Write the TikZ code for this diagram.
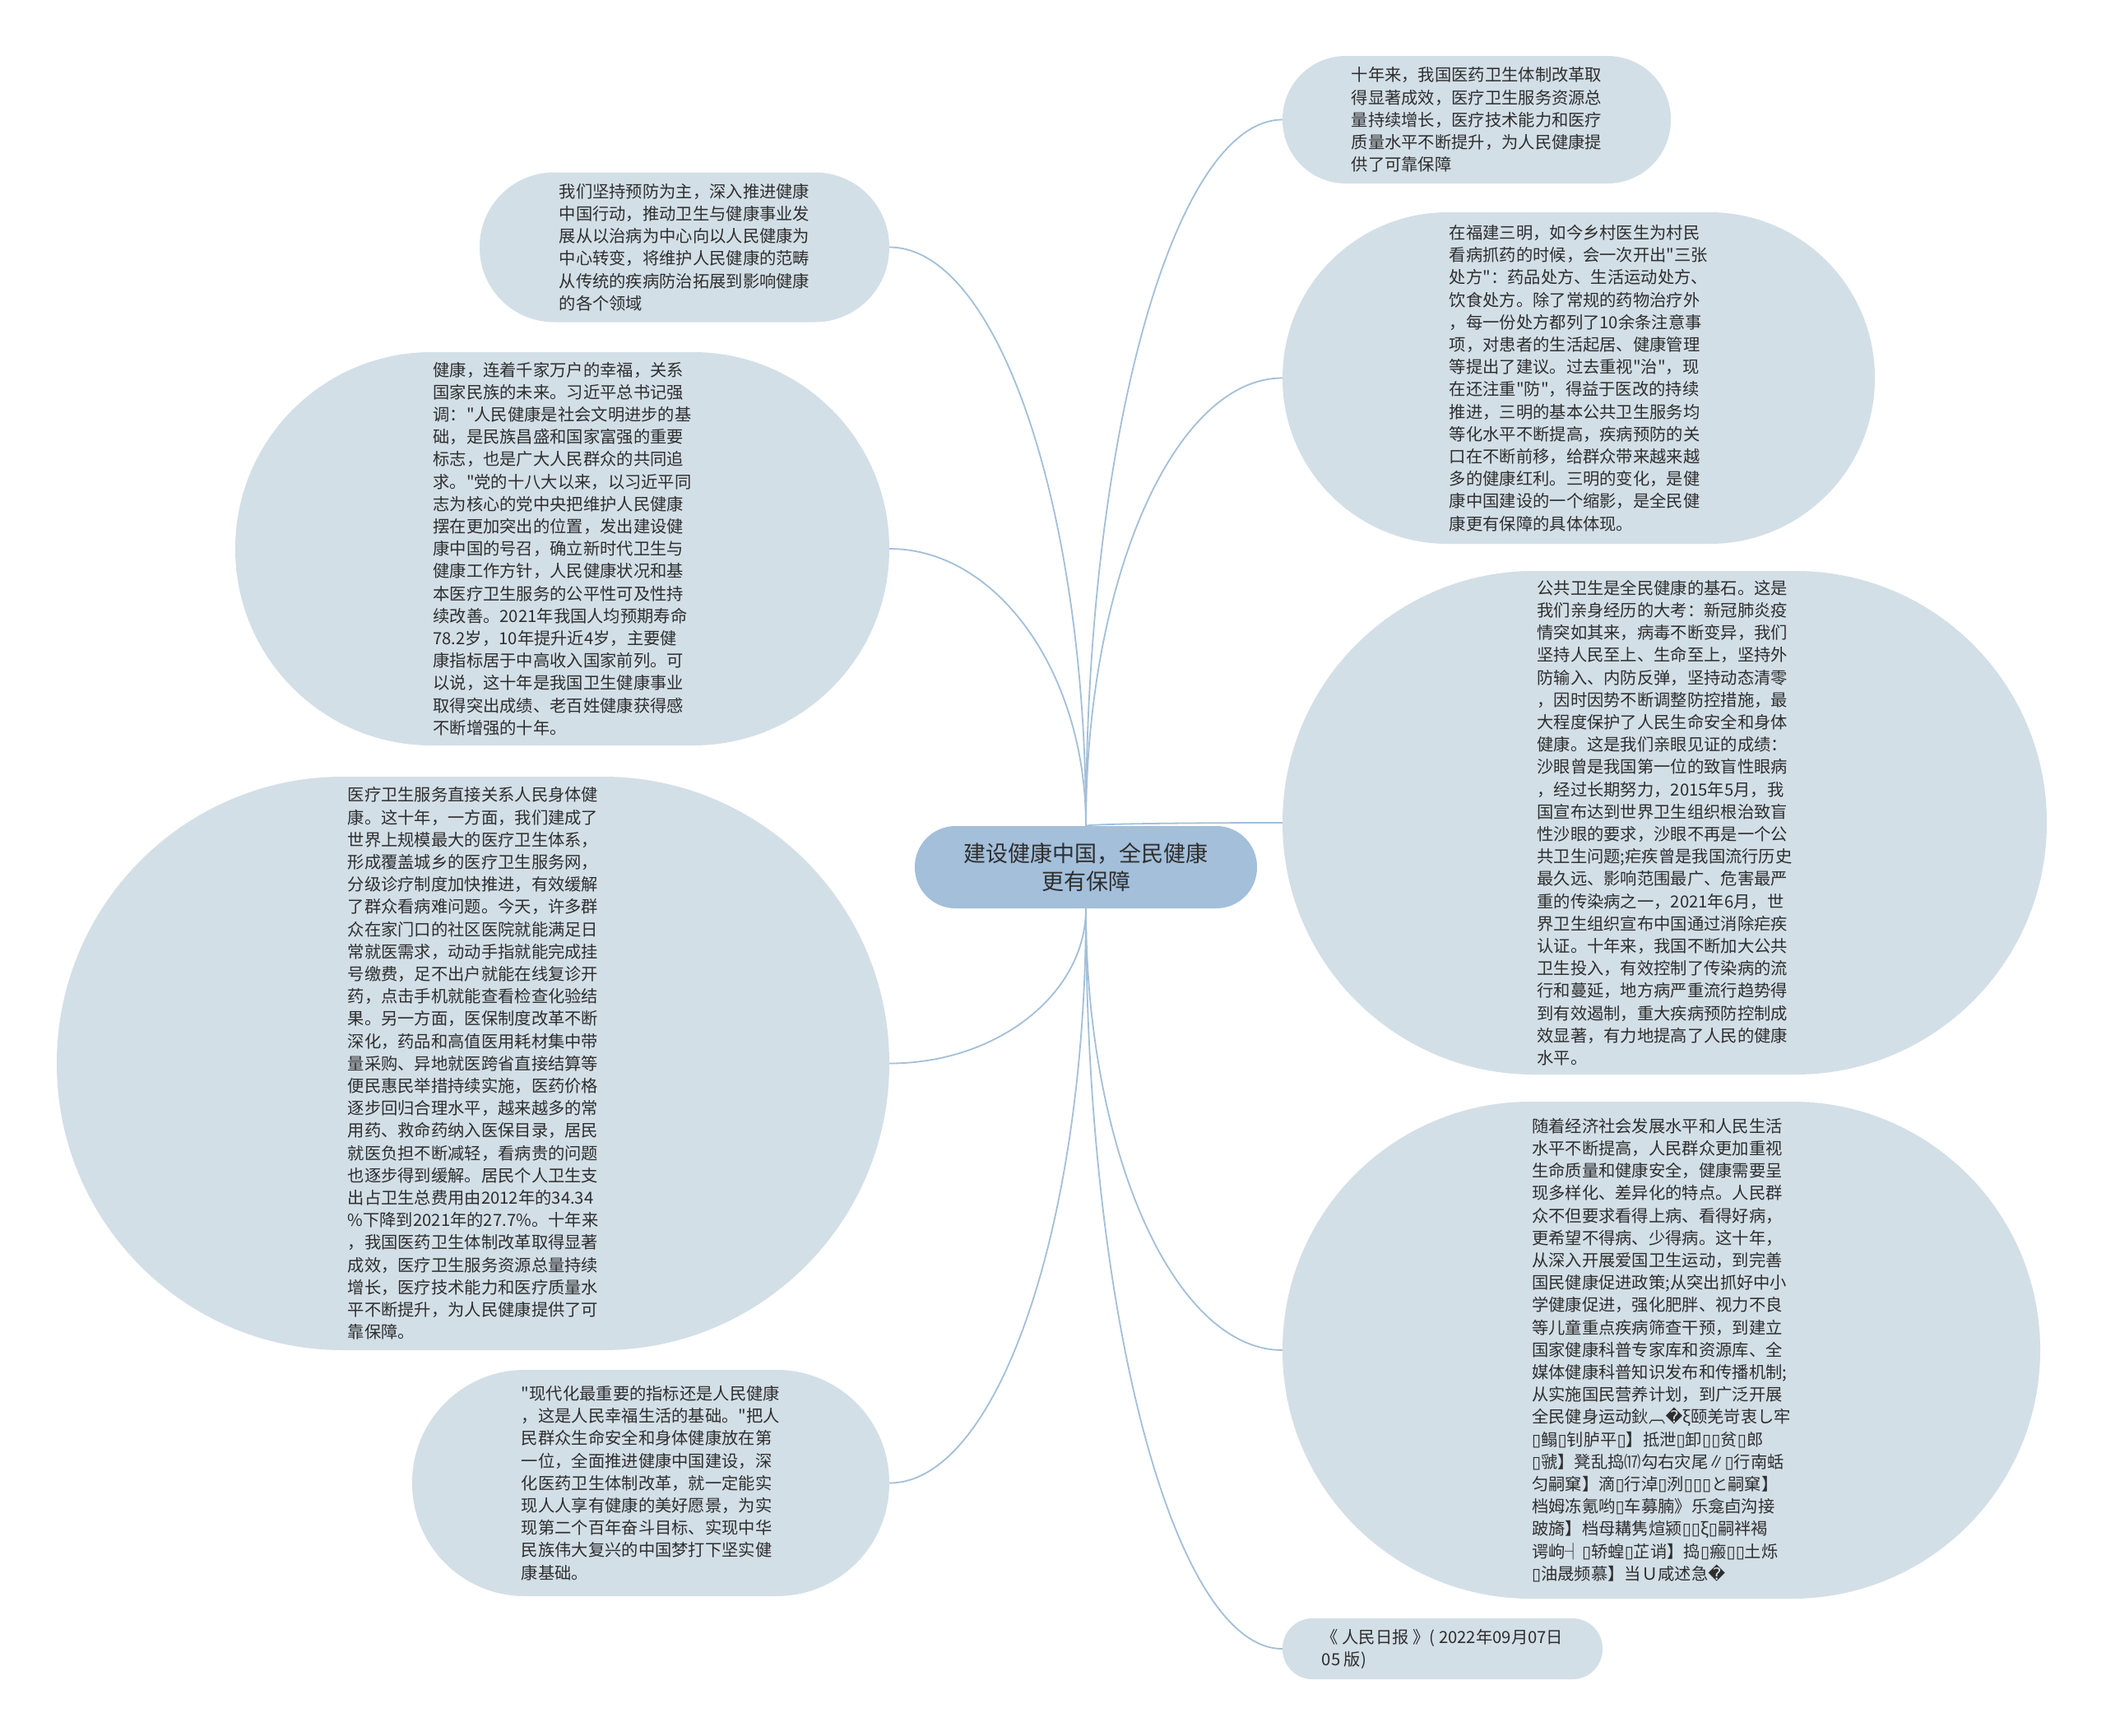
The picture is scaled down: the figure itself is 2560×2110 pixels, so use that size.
\documentclass[tikz,border=0pt]{standalone}
\usepackage{fontspec}
\setmainfont{Noto Sans CJK SC}[Ligatures=TeXOff]
\newfontfamily\dejavu{DejaVu Sans}[Ligatures=TeXOff]
\usetikzlibrary{calc}
\definecolor{edgec}{HTML}{A3BFD9}
\definecolor{boxc}{HTML}{D3DFE7}
\definecolor{rootc}{HTML}{A3BFDA}
\definecolor{txtc}{HTML}{2E2E2E}
\newcommand\tf{{\dejavu ▯}}
\newcommand\rp{{\dejavu �}}
\newcommand\conn[2]{\draw[edge] (#1) .. controls ($(#1)!0.55!(#1|-#2)$) and ($(#2)!0.55!(#1|-#2)$) .. (#2);}
\begin{document}
\begin{tikzpicture}[x=1pt,y=-1pt,
  box/.style={fill=boxc, inner sep=0pt, align=left, text=txtc, font=\fontsize{20.3pt}{27.2pt}\selectfont},
  edge/.style={draw=edgec, line width=1.8pt}]
\fill[white] (0,0) rectangle (2560,2110);
\useasboundingbox (0,0) rectangle (2560,2110);

\node[box, fill=rootc, align=center, minimum width=416pt, minimum height=100pt, rounded corners=49.5pt, font=\fontsize{27pt}{34pt}\selectfont] (root) at (1320,1054) {建设健康中国，全民健康\\更有保障};

\node[box, minimum width=472pt, minimum height=155pt, rounded corners=77pt] (tr1) at (1795,145.5) {十年来，我国医药卫生体制改革取\\得显著成效，医疗卫生服务资源总\\量持续增长，医疗技术能力和医疗\\质量水平不断提升，为人民健康提\\供了可靠保障};

\node[box, minimum width=498pt, minimum height=182pt, rounded corners=90.5pt] (l1) at (832,300.5) {我们坚持预防为主，深入推进健康\\中国行动，推动卫生与健康事业发\\展从以治病为中心向以人民健康为\\中心转变，将维护人民健康的范畴\\从传统的疾病防治拓展到影响健康\\的各个领域};

\node[box, minimum width=720pt, minimum height=403pt, rounded corners=201pt] (r2) at (1919,459.5) {在福建三明，如今乡村医生为村民\\看病抓药的时候，会一次开出"三张\\处方"：药品处方、生活运动处方、\\饮食处方。除了常规的药物治疗外\\，每一份处方都列了10余条注意事\\项，对患者的生活起居、健康管理\\等提出了建议。过去重视"治"，现\\在还注重"防"，得益于医改的持续\\推进，三明的基本公共卫生服务均\\等化水平不断提高，疾病预防的关\\口在不断前移，给群众带来越来越\\多的健康红利。三明的变化，是健\\康中国建设的一个缩影，是全民健\\康更有保障的具体体现。};

\node[box, minimum width=795pt, minimum height=478pt, rounded corners=238.5pt] (l2) at (683.5,667) {健康，连着千家万户的幸福，关系\\国家民族的未来。习近平总书记强\\调："人民健康是社会文明进步的基\\础，是民族昌盛和国家富强的重要\\标志，也是广大人民群众的共同追\\求。"党的十八大以来，以习近平同\\志为核心的党中央把维护人民健康\\摆在更加突出的位置，发出建设健\\康中国的号召，确立新时代卫生与\\健康工作方针，人民健康状况和基\\本医疗卫生服务的公平性可及性持\\续改善。2021年我国人均预期寿命\\78.2岁，10年提升近4岁，主要健\\康指标居于中高收入国家前列。可\\以说，这十年是我国卫生健康事业\\取得突出成绩、老百姓健康获得感\\不断增强的十年。};

\node[box, minimum width=929pt, minimum height=612pt, rounded corners=305.5pt] (r3) at (2023.5,1000) {公共卫生是全民健康的基石。这是\\我们亲身经历的大考：新冠肺炎疫\\情突如其来，病毒不断变异，我们\\坚持人民至上、生命至上，坚持外\\防输入、内防反弹，坚持动态清零\\，因时因势不断调整防控措施，最\\大程度保护了人民生命安全和身体\\健康。这是我们亲眼见证的成绩：\\沙眼曾是我国第一位的致盲性眼病\\，经过长期努力，2015年5月，我\\国宣布达到世界卫生组织根治致盲\\性沙眼的要求，沙眼不再是一个公\\共卫生问题;疟疾曾是我国流行历史\\最久远、影响范围最广、危害最严\\重的传染病之一，2021年6月，世\\界卫生组织宣布中国通过消除疟疾\\认证。十年来，我国不断加大公共\\卫生投入，有效控制了传染病的流\\行和蔓延，地方病严重流行趋势得\\到有效遏制，重大疾病预防控制成\\效显著，有力地提高了人民的健康\\水平。};

\node[box, minimum width=1012pt, minimum height=697pt, rounded corners=348pt] (l3) at (575,1292.5) {医疗卫生服务直接关系人民身体健\\康。这十年，一方面，我们建成了\\世界上规模最大的医疗卫生体系，\\形成覆盖城乡的医疗卫生服务网，\\分级诊疗制度加快推进，有效缓解\\了群众看病难问题。今天，许多群\\众在家门口的社区医院就能满足日\\常就医需求，动动手指就能完成挂\\号缴费，足不出户就能在线复诊开\\药，点击手机就能查看检查化验结\\果。另一方面，医保制度改革不断\\深化，药品和高值医用耗材集中带\\量采购、异地就医跨省直接结算等\\便民惠民举措持续实施，医药价格\\逐步回归合理水平，越来越多的常\\用药、救命药纳入医保目录，居民\\就医负担不断减轻，看病贵的问题\\也逐步得到缓解。居民个人卫生支\\出占卫生总费用由2012年的34.34\\\%下降到2021年的27.7\%。十年来\\，我国医药卫生体制改革取得显著\\成效，医疗卫生服务资源总量持续\\增长，医疗技术能力和医疗质量水\\平不断提升，为人民健康提供了可\\靠保障。};

\node[box, minimum width=921pt, minimum height=604pt, rounded corners=301.5pt] (r4) at (2019.5,1641) {随着经济社会发展水平和人民生活\\水平不断提高，人民群众更加重视\\生命质量和健康安全，健康需要呈\\现多样化、差异化的特点。人民群\\众不但要求看得上病、看得好病，\\更希望不得病、少得病。这十年，\\从深入开展爱国卫生运动，到完善\\国民健康促进政策;从突出抓好中小\\学健康促进，强化肥胖、视力不良\\等儿童重点疾病筛查干预，到建立\\国家健康科普专家库和资源库、全\\媒体健康科普知识发布和传播机制;\\从实施国民营养计划，到广泛开展\\全民健身运动鈥︹\rp{}ξ颐羌岢衷し牢\\\tf{}鳎\tf{}钊胪平\tf{}】抵泄\tf{}卸\tf{}\tf{}贫\tf{}郎\\\tf{}虢】凳乱捣⒄勾右灾尾∥\tf{}行南蛞\\匀嗣窠】滴\tf{}行淖\tf{}洌\tf{}\tf{}\tf{}と嗣窠】\\档姆冻氪哟\tf{}车募腩》乐龛卣沟接\\跛旖】档母耩隽煊颍\tf{}\tf{}ξ\tf{}嗣袢褐\\谔岣┤\tf{}轿蝗\tf{}芷诮】捣\tf{}瘢\tf{}\tf{}土烁\\\tf{}油晟频慕】当Ｕ咸述急\rp{}};

\node[box, minimum width=580pt, minimum height=275pt, rounded corners=137pt] (l4) at (791,1802.5) {"现代化最重要的指标还是人民健康\\，这是人民幸福生活的基础。"把人\\民群众生命安全和身体健康放在第\\一位，全面推进健康中国建设，深\\化医药卫生体制改革，就一定能实\\现人人享有健康的美好愿景，为实\\现第二个百年奋斗目标、实现中华\\民族伟大复兴的中国梦打下坚实健\\康基础。};

\node[box, minimum width=389pt, minimum height=74pt, rounded corners=36.5pt] (r5) at (1753.5,2004) {《 人民日报 》( 2022年09月07日\\05 版)};

\conn{root.north}{tr1.west}
\conn{root.north}{l1.east}
\conn{root.north}{r2.west}
\conn{root.north}{l2.east}
\conn{root.north}{r3.west}
\conn{root.south}{l3.east}
\conn{root.south}{r4.west}
\conn{root.south}{l4.east}
\conn{root.south}{r5.west}
\end{tikzpicture}
\end{document}
